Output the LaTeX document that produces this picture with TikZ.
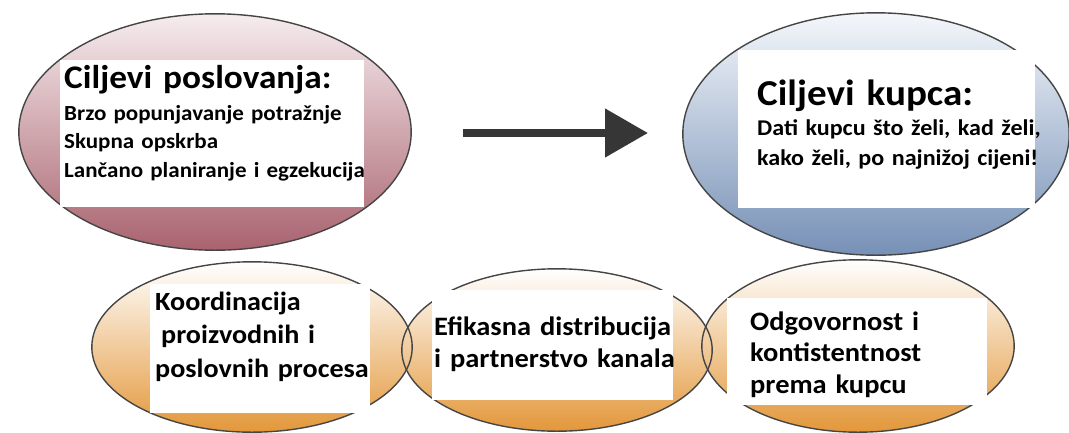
\documentclass[tikz,border=0pt]{standalone}
\usepackage{fontspec}
\setmainfont{Carlito}[FakeStretch=1.07]
\usepackage{xcolor}
\usepackage{tikz}
\usetikzlibrary{shapes.geometric,arrows.meta,positioning,calc}

\definecolor{busTop}{HTML}{F6ECEE}
\definecolor{busBot}{HTML}{A9636F}
\definecolor{kupTop}{HTML}{F4F7FB}
\definecolor{kupBot}{HTML}{7690B6}
\definecolor{keyTop}{HTML}{FFFFFF}
\definecolor{keyBot}{HTML}{E3973A}
\definecolor{rimGray}{HTML}{454545}
\definecolor{arrGray}{HTML}{363636}

\tikzset{
    oval/.style={ellipse, inner sep=0pt},
    rim/.style={draw=rimGray, line width=1.4pt},
    card/.style={fill=white, inner sep=0pt, anchor=north west},
    txt/.style={anchor=base west, inner sep=0pt, align=left, text width=#1},
    txt/.default=320pt
}
\newcommand{\fsz}[2]{\bfseries\fontsize{#1}{#2}\selectfont}

\begin{document}
\begin{tikzpicture}[x=1pt, y=-1pt]
    \useasboundingbox (0,0) rectangle (1069,432);

    % Ovals
    \node[oval, minimum width=392, minimum height=236, top color=busTop, bottom color=busBot] (busOval) at (215,132) {};
    \node[oval, minimum width=386, minimum height=242, top color=kupTop, bottom color=kupBot] (kupOval) at (876,134) {};
    \node[oval, minimum width=320, minimum height=170, top color=keyTop, bottom color=keyBot] (keyA) at (252,347) {};
    \node[oval, minimum width=310, minimum height=162, top color=keyTop, bottom color=keyBot] (keyB) at (557,350) {};
    \node[oval, minimum width=312, minimum height=172, top color=keyTop, bottom color=keyBot] (keyC) at (858,346) {};

    % Outlines on top of all fills
    \foreach \o in {busOval,kupOval,keyA,keyB,keyC}
        \draw[rim] let \p1=($(\o.east)-(\o.center)$), \p2=($(\o.north)-(\o.center)$) in
            (\o.center) ellipse [x radius=\x1, y radius=\y2];

    % White cards
    \node[card, minimum width=304, minimum height=147] (busCard) at (60,60) {};
    \node[card, minimum width=297, minimum height=158] (kupCard) at (738,50) {};
    \node[card, minimum width=220, minimum height=129] (keyCardA) at (150,284) {};
    \node[card, minimum width=241, minimum height=110] (keyCardB) at (432,290) {};
    \node[card, minimum width=260, minimum height=107] (keyCardC) at (727,298) {};

    % Texts
    \node[txt, font=\fsz{33}{36}] (busTitle) at (64,88) {Ciljevi poslovanja:};
    \node[txt, font=\fsz{21.5}{28.5}] (busText) at (64,120)
        {Brzo popunjavanje potražnje\\Skupna opskrba\\Lančano planiranje i egzekucija};
    \node[txt, font=\fsz{36.5}{38}] (kupTitle) at (757,105) {Ciljevi kupca:};
    \node[txt, font=\fsz{22.5}{30}] (kupText) at (757,135)
        {Dati kupcu što želi, kad želi,\\kako želi, po najnižoj cijeni!};
    \node[txt=240pt, font=\fsz{26.3}{33.5}] (keyTextA) at (155,310)
        {Koordinacija\\\hspace*{6pt}proizvodnih i\\poslovnih procesa};
    \node[txt=260pt, font=\fsz{26.6}{32}] (keyTextB) at (434,335)
        {Efikasna distribucija\\i partnerstvo kanala};
    \node[txt=260pt, font=\fsz{26.6}{31.5}] (keyTextC) at (750,330)
        {Odgovornost i\\kontistentnost\\prema kupcu};

    % Arrow
    \coordinate (arrTail) at (463,133);
    \coordinate (arrTip) at (648,133);
    \draw[-{Triangle[length=43pt,width=47pt]}, line width=8pt, arrGray] (arrTail) -- (arrTip);
\end{tikzpicture}
\end{document}
